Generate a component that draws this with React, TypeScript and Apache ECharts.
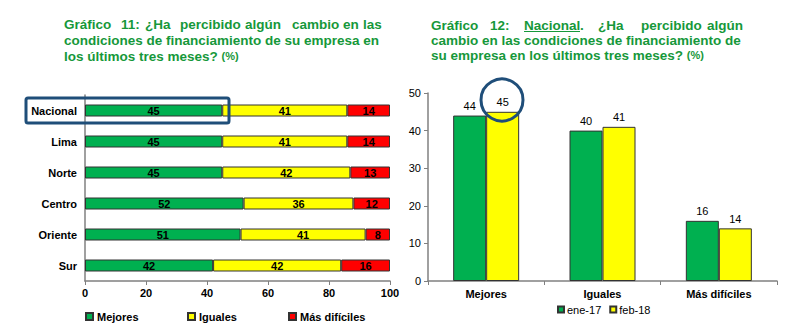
import React, { useEffect, useRef } from "react";
import * as echarts from "echarts";

const regions = ["Nacional", "Lima", "Norte", "Centro", "Oriente", "Sur"];
const mejores = [45, 45, 45, 52, 51, 42];
const iguales = [41, 41, 42, 36, 41, 42];
const masDificiles = [14, 14, 13, 12, 8, 16];

const answers = ["Mejores", "Iguales", "Más difíciles"];
const ene17 = [44, 40, 16];
const feb18 = [45, 41, 14];

const GREEN = "#00b050";
const YELLOW = "#ffff00";
const RED = "#ff0000";
const TITLE = "#16983a";
const BLUE = "#1f4e79";
const FONT = "'Liberation Sans', Arial, sans-serif";

export default function App() {
  const ref = useRef<HTMLDivElement>(null);
  useEffect(() => {
    document.body.style.margin = "0";
    const chart = echarts.init(ref.current!, null, { renderer: "svg" });
    const tStyle = (extra: any = {}) => ({
      fill: TITLE,
      font: `bold 13.5px ${FONT}`,
      textVerticalAlign: "middle",
      ...extra,
    });
    const words = (list: [string, number][], y: number) =>
      list.map(([t, x]) => ({ type: "text", left: x, top: y - 8, style: tStyle({ text: t }) }));
    const rich = { s: { fill: TITLE, font: `bold 11px ${FONT}` } };
    const boldLbl = { fontFamily: FONT, fontWeight: "bold", fontSize: 11, color: "#000" };
    const normLbl = { fontFamily: FONT, fontSize: 11, color: "#000" };
    const axisLine = { show: true, lineStyle: { color: "#808080", width: 1.5 } };
    const border = { borderColor: "#333", borderWidth: 1 };
    const legBase = { icon: "rect", padding: 0, itemWidth: 7, itemHeight: 7, textStyle: { ...boldLbl, padding: [0, 0, 0, -1] } };

    chart.setOption({
      animation: false,
      textStyle: { fontFamily: FONT },
      grid: [
        { left: 85, right: 410, top: 95, height: 186 },
        { left: 428, right: 23, top: 93, bottom: 55 },
      ],
      legend: [
        { ...legBase, data: ["Mejores"], left: 85, top: 311 },
        { ...legBase, data: ["Iguales"], left: 187, top: 311 },
        { ...legBase, data: ["Más difíciles"], left: 288, top: 311 },
        { data: ["ene-17", "feb-18"], left: 557, top: 304, padding: 0, icon: "rect", itemWidth: 6, itemHeight: 6, itemGap: 8, textStyle: { ...normLbl, padding: [0, 0, 0, -2] } },
      ],
      xAxis: [
        {
          gridIndex: 0, type: "value", min: 0, max: 100, interval: 20,
          axisLine, axisTick: { show: true, length: 4, lineStyle: { color: "#808080" } },
          splitLine: { show: false }, axisLabel: { ...boldLbl, margin: 6 },
        },
        {
          gridIndex: 1, type: "category", data: answers,
          axisLine, axisTick: { show: true, length: 4, lineStyle: { color: "#808080" } },
          axisLabel: { ...boldLbl, margin: 7 },
        },
      ],
      yAxis: [
        {
          gridIndex: 0, type: "category", data: regions, inverse: true,
          axisLine, axisTick: { show: false }, axisLabel: { ...boldLbl, margin: 8 },
        },
        {
          gridIndex: 1, type: "value", min: 0, max: 50, interval: 10,
          axisLine, axisTick: { show: true, length: 4, lineStyle: { color: "#808080" } },
          splitLine: { show: false }, axisLabel: { ...normLbl, margin: 7 },
        },
      ],
      series: [
        { name: "Mejores", type: "bar", stack: "a", xAxisIndex: 0, yAxisIndex: 0, data: mejores, barWidth: 12,
          itemStyle: { color: GREEN, ...border }, label: { show: true, position: "inside", ...boldLbl } },
        { name: "Iguales", type: "bar", stack: "a", xAxisIndex: 0, yAxisIndex: 0, data: iguales, barWidth: 12,
          itemStyle: { color: YELLOW, ...border }, label: { show: true, position: "inside", ...boldLbl } },
        { name: "Más difíciles", type: "bar", stack: "a", xAxisIndex: 0, yAxisIndex: 0, data: masDificiles, barWidth: 12,
          itemStyle: { color: RED, ...border }, label: { show: true, position: "inside", ...boldLbl } },
        { name: "ene-17", type: "bar", xAxisIndex: 1, yAxisIndex: 1, data: ene17, barWidth: 33, barGap: "0%",
          itemStyle: { color: GREEN, ...border }, label: { show: true, position: "top", distance: 4, ...normLbl } },
        { name: "feb-18", type: "bar", xAxisIndex: 1, yAxisIndex: 1, data: feb18, barWidth: 33, barGap: "0%",
          itemStyle: { color: YELLOW, ...border }, label: { show: true, position: "top", distance: 4, ...normLbl } },
      ],
      graphic: [
        ...words([["Gráfico", 64], ["11:", 121], ["¿Ha", 145], ["percibido", 180], ["algún", 245], ["cambio", 292], ["en", 343], ["las", 363]], 25),
        { type: "text", left: 64, top: 33, style: tStyle({ text: "condiciones de financiamiento de su empresa en" }) },
        { type: "text", left: 64, top: 49, style: tStyle({ text: "los últimos tres meses? {s|(%)}", rich }) },
        ...words([["Gráfico", 431], ["12:", 490], ["Nacional", 524], [".", 580], ["¿Ha", 598], ["percibido", 641], ["algún", 707]], 26),
        { type: "line", shape: { x1: 524, y1: 31.5, x2: 580, y2: 31.5 }, style: { stroke: TITLE, lineWidth: 1.2 } },
        { type: "text", left: 431, top: 33, style: tStyle({ text: "cambio en las condiciones de financiamiento de" }) },
        { type: "text", left: 431, top: 48, style: tStyle({ text: "su empresa en los últimos tres meses? {s|(%)}", rich }) },
        { type: "rect", z: 100, shape: { x: 26, y: 98, width: 203, height: 25, r: 2 }, style: { fill: "none", stroke: BLUE, lineWidth: 3 } },
        { type: "circle", z: 100, shape: { cx: 502, cy: 100, r: 21 }, style: { fill: "none", stroke: BLUE, lineWidth: 3 } },
      ],
    });
    return () => chart.dispose();
  }, []);
  return <div ref={ref} style={{ width: 800, height: 336 }} />;
}
